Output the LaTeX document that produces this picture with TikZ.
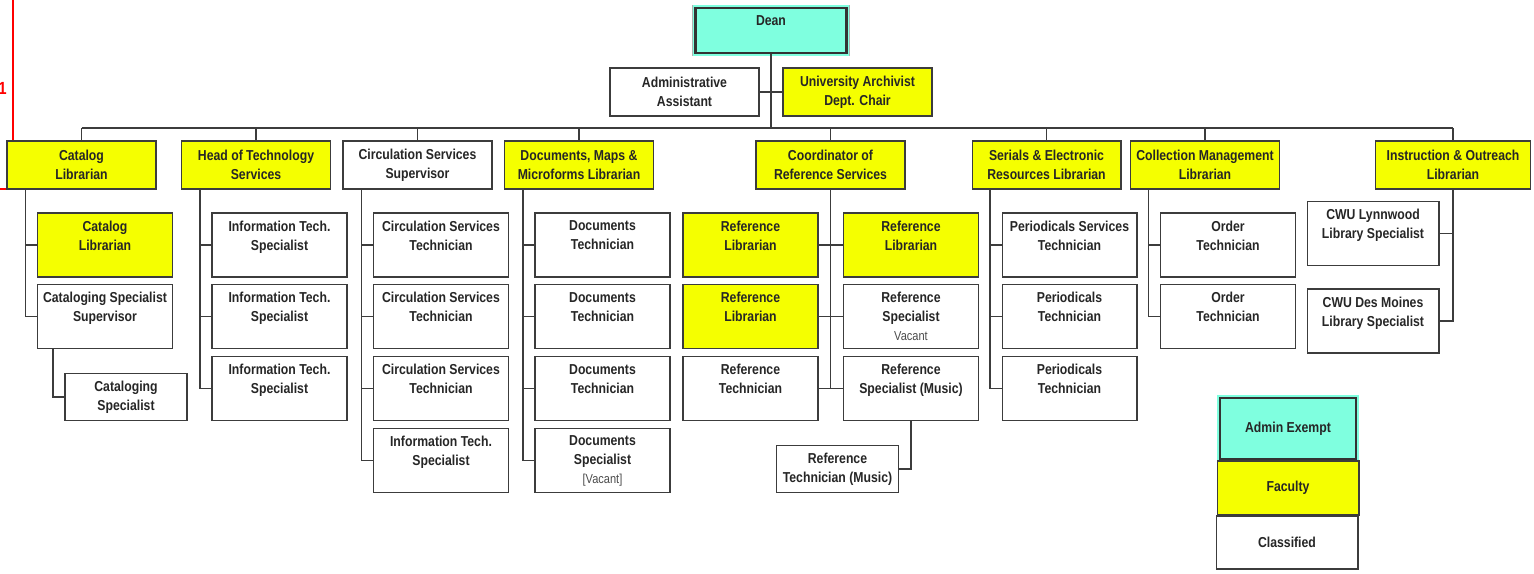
\documentclass[tikz,border=0pt]{standalone}
\usepackage{fontspec}
\setmainfont{Liberation Sans}[FakeStretch=0.85]
\usetikzlibrary{calc}

\definecolor{faculty}{RGB}{245,255,0}
\definecolor{exempt}{RGB}{127,255,223}
\definecolor{rule}{RGB}{60,60,60}

\tikzset{
  post/.style={draw=rule, line width=0.6pt, fill=white, align=center, inner sep=0pt,
    font=\fontsize{8.2}{10.8}\selectfont\bfseries, text=black!85,
    minimum width=2.7cm, minimum height=1.28cm},
  head/.style={post, minimum width=2.98cm, minimum height=0.96cm},
  small/.style={post, minimum width=2.44cm, minimum height=0.94cm},
  fac/.style={fill=faculty},
  adm/.style={post, fill=exempt, draw=black!80, line width=1.3pt,
    preaction={draw=gray!60, line width=3.6pt},
    preaction={draw=exempt, line width=3pt}},
  link/.style={draw=rule, line width=0.6pt},
}
\newcommand{\vac}[1]{{\fontsize{7.4}{8}\selectfont\mdseries\color{black!70}#1}}

\begin{document}
\begin{tikzpicture}[x=0.02cm,y=-0.02cm]
\useasboundingbox (0,0) rectangle (1534,574);
% red margin mark
\draw[red, line width=0.6pt] (13,0) -- (13,189) -- (0,189);
\node[text=red, font=\bfseries\fontsize{10}{10}\selectfont] (one) at (2.5,88) {1};

% top
\node[adm, minimum width=3.02cm, minimum height=0.9cm] (dean) at (771,30.5) {Dean\\~};
\node[head] (assist) at (684.5,92) {Administrative\\Assistant};
\node[head,fac] (archivist) at (857.5,92) {University Archivist\\Dept. Chair};
\coordinate (bus) at (771,128);
\draw[link] (dean.south) -- (bus);
\draw[link] (assist.east) -- (archivist.west);

% department heads
\node[head,fac] (catalog) at (81.5,165) {Catalog\\Librarian};
\node[head,fac] (headtech) at (256,165) {Head of Technology\\Services};
\node[head] (circsup) at (417.5,165) {Circulation Services\\Supervisor};
\node[head,fac] (docs) at (579,165) {Documents, Maps \&\\Microforms Librarian};
\node[head,fac] (coord) at (830.5,165) {Coordinator of\\Reference Services};
\node[head,fac] (serials) at (1046.5,165) {Serials \& Electronic\\Resources Librarian};
\node[head,fac] (collect) at (1205,165) {Collection Management\\Librarian};
\node[head,fac, minimum width=3.1cm] (instruct) at (1453,165) {Instruction \& Outreach\\Librarian};
\draw[link] (catalog.north |- bus) -- (instruct.north |- bus);
\foreach \n in {catalog,headtech,circsup,docs,coord,serials,collect,instruct}
  \draw[link] (\n.north) -- (\n.north |- bus);

% staff
\node[post,fac] (cat1) at (105,245) {Catalog\\Librarian\\~};
\node[post] (cat2) at (105,316.5) {Cataloging Specialist\\Supervisor\\~};
\node[small] (catspec) at (126,397) {Cataloging\\Specialist};
\foreach \i/\y in {1/245,2/316.5,3/388.5}
  \node[post] (tech\i) at (279.5,\y) {Information Tech.\\Specialist\\~};
\foreach \i/\y in {1/245,2/316.5,3/388.5}
  \node[post] (circ\i) at (441,\y) {Circulation Services\\Technician\\~};
\node[post] (circ4) at (441,460.5) {Information Tech.\\Specialist\\~};
\foreach \i/\y in {1/245,2/316.5,3/388.5}
  \node[post] (doc\i) at (602.5,\y) {Documents\\Technician\\~};
\node[post] (doc4) at (602.5,460.5) {Documents\\Specialist\\\vac{[Vacant]}};
\node[post,fac] (refa1) at (750.5,245) {Reference\\Librarian\\~};
\node[post,fac] (refa2) at (750.5,316.5) {Reference\\Librarian\\~};
\node[post] (refa3) at (750.5,388.5) {Reference\\Technician\\~};
\node[post,fac] (refb1) at (911,245) {Reference\\Librarian\\~};
\node[post] (refb2) at (911,316.5) {Reference\\Specialist\\\vac{Vacant}};
\node[post] (refb3) at (911,388.5) {Reference\\Specialist (Music)\\~};
\node[small] (refmus) at (837.5,469) {Reference\\Technician (Music)};
\node[post] (ser1) at (1069.5,245) {Periodicals Services\\Technician\\~};
\node[post] (ser2) at (1069.5,316.5) {Periodicals\\Technician\\~};
\node[post] (ser3) at (1069.5,388.5) {Periodicals\\Technician\\~};
\node[post] (col1) at (1228,245) {Order\\Technician\\~};
\node[post] (col2) at (1228,316.5) {Order\\Technician\\~};
\node[post, minimum width=2.64cm] (cwu1) at (1373,233.5) {CWU Lynnwood\\Library Specialist\\~};
\node[post, minimum width=2.64cm] (cwu2) at (1373,321) {CWU Des Moines\\Library Specialist\\~};

% column lines
\foreach \c/\x in {cat/25.5,tech/200,circ/361.5,doc/523,ser/990,col/1148.5}
  \coordinate (\c top) at (\x,189);
\foreach \c/\k in {cat/2,tech/3,circ/4,doc/4,ser/3,col/2}
  \foreach \i in {1,...,\k}
    \draw[link] (\c top) |- (\c\i.west);
\coordinate (subtop) at (53,348);
\draw[link] (subtop) |- (catspec.west);
\draw[link] (coord.south) -- (coord.south |- refa3.east);
\foreach \i in {1,2,3}
  \draw[link] (refa\i.east) -- (refb\i.west);
\draw[link] (refb3.south) |- (refmus.east);
\draw[link] (instruct.south) |- (cwu2.east);
\draw[link] (cwu1.east) -- (cwu1.east -| instruct.south);

% legend
\node[adm, minimum width=2.72cm, minimum height=1.22cm] (kadmin) at (1288,428.5) {Admin Exempt};
\node[post,fac, minimum width=2.84cm, minimum height=1.08cm] (kfac) at (1288,488) {Faculty};
\node[post, minimum width=2.84cm, minimum height=1.06cm] (kclass) at (1287,542.5) {Classified};
\end{tikzpicture}
\end{document}
